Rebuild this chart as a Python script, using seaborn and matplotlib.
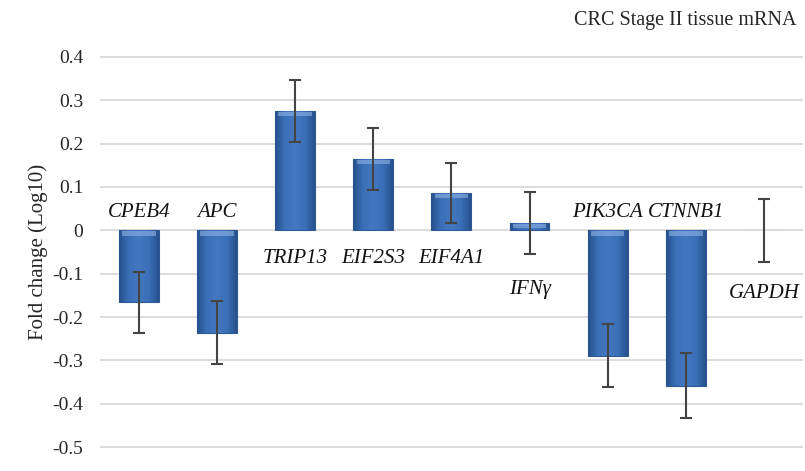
import matplotlib
matplotlib.use('Agg')
import matplotlib.pyplot as plt
from matplotlib.colors import LinearSegmentedColormap
import seaborn as sns
import pandas as pd
import numpy as np

genes = ['CPEB4', 'APC', 'TRIP13', 'EIF2S3', 'EIF4A1', 'IFN\u03b3', 'PIK3CA', 'CTNNB1', 'GAPDH']
fold_change = [-0.166, -0.236, 0.275, 0.165, 0.086, 0.017, -0.289, -0.358, 0.0]
errors = [0.071, 0.073, 0.071, 0.071, 0.070, 0.071, 0.073, 0.074, 0.072]
yticks = [0.4, 0.3, 0.2, 0.1, 0, -0.1, -0.2, -0.3, -0.4, -0.5]
ytick_labels = ['0.4', '0.3', '0.2', '0.1', '0', '-0.1', '-0.2', '-0.3', '-0.4', '-0.5']

# where each gene name sits (data units on the y axis)
label_y = [0.040, 0.040, -0.066, -0.066, -0.066, -0.136, 0.042, 0.042, -0.145]


def main():
    sns.set_style('white')
    plt.rcParams['font.family'] = ['Liberation Serif', 'DejaVu Serif']

    df = pd.DataFrame({'Gene': genes, 'Fold change': fold_change, 'Error': errors})

    fig = plt.figure(figsize=(8.05, 4.71), dpi=100)
    ax = fig.add_axes([0.124, 0.023, 0.8735, 0.884])

    sns.barplot(x='Gene', y='Fold change', data=df, color='#3a6eb5', width=0.51,
                edgecolor='#2d5896', linewidth=0.8, ax=ax, zorder=2)

    # excel-ish bevel shading on each bar
    cmap = LinearSegmentedColormap.from_list('bev', ['#27518d', '#3b70b8', '#4378c0', '#3b70b8', '#27518d'])
    grad = np.linspace(0, 1, 64).reshape(1, -1)
    for patch in ax.patches:
        x0 = patch.get_x()
        w = patch.get_width()
        y0 = patch.get_y()
        h = patch.get_height()
        if abs(h) < 1e-6:
            patch.set_edgecolor('#dddddd')
            continue
        im = ax.imshow(grad, cmap=cmap, aspect='auto', extent=[x0, x0 + w, min(y0, y0 + h), max(y0, y0 + h)],
                       zorder=2.5, interpolation='bicubic')
        im.set_clip_path(patch)
        top = max(y0, y0 + h)
        ax.fill_between([x0 + w * 0.08, x0 + w * 0.92], top - 0.012, top - 0.002,
                        color='#8fb4e3', alpha=0.6, zorder=2.6, linewidth=0)

    ax.errorbar(x=np.arange(len(genes)), y=df['Fold change'], yerr=df['Error'], fmt='none',
                ecolor='#444444', elinewidth=1.5, capsize=4.5, capthick=1.5, zorder=4)

    for i, g in enumerate(genes):
        ax.text(i, label_y[i], g, ha='center', va='center', fontsize=15, style='italic', color='#111111')

    ax.set_xlim(-0.5, len(genes) - 0.5)
    ax.set_ylim(-0.53, 0.43)
    ax.set_yticks(yticks)
    ax.set_yticklabels(ytick_labels, fontsize=14)
    ax.set_xticks([])
    ax.set_xlabel('')
    ax.set_ylabel('Fold change (Log10)', fontsize=15, labelpad=3)
    ax.tick_params(axis='y', length=0, pad=12)
    ax.yaxis.grid(True, color='#d9d9d9', linewidth=1.3, zorder=0)
    ax.set_axisbelow(True)
    for s in ax.spines.values():
        s.set_visible(False)

    fig.text(0.99, 0.957, 'CRC Stage II tissue mRNA', ha='right', va='center', fontsize=14.5)

    fig.savefig('out.png', dpi=100)
    plt.close()


if __name__ == '__main__':
    main()
